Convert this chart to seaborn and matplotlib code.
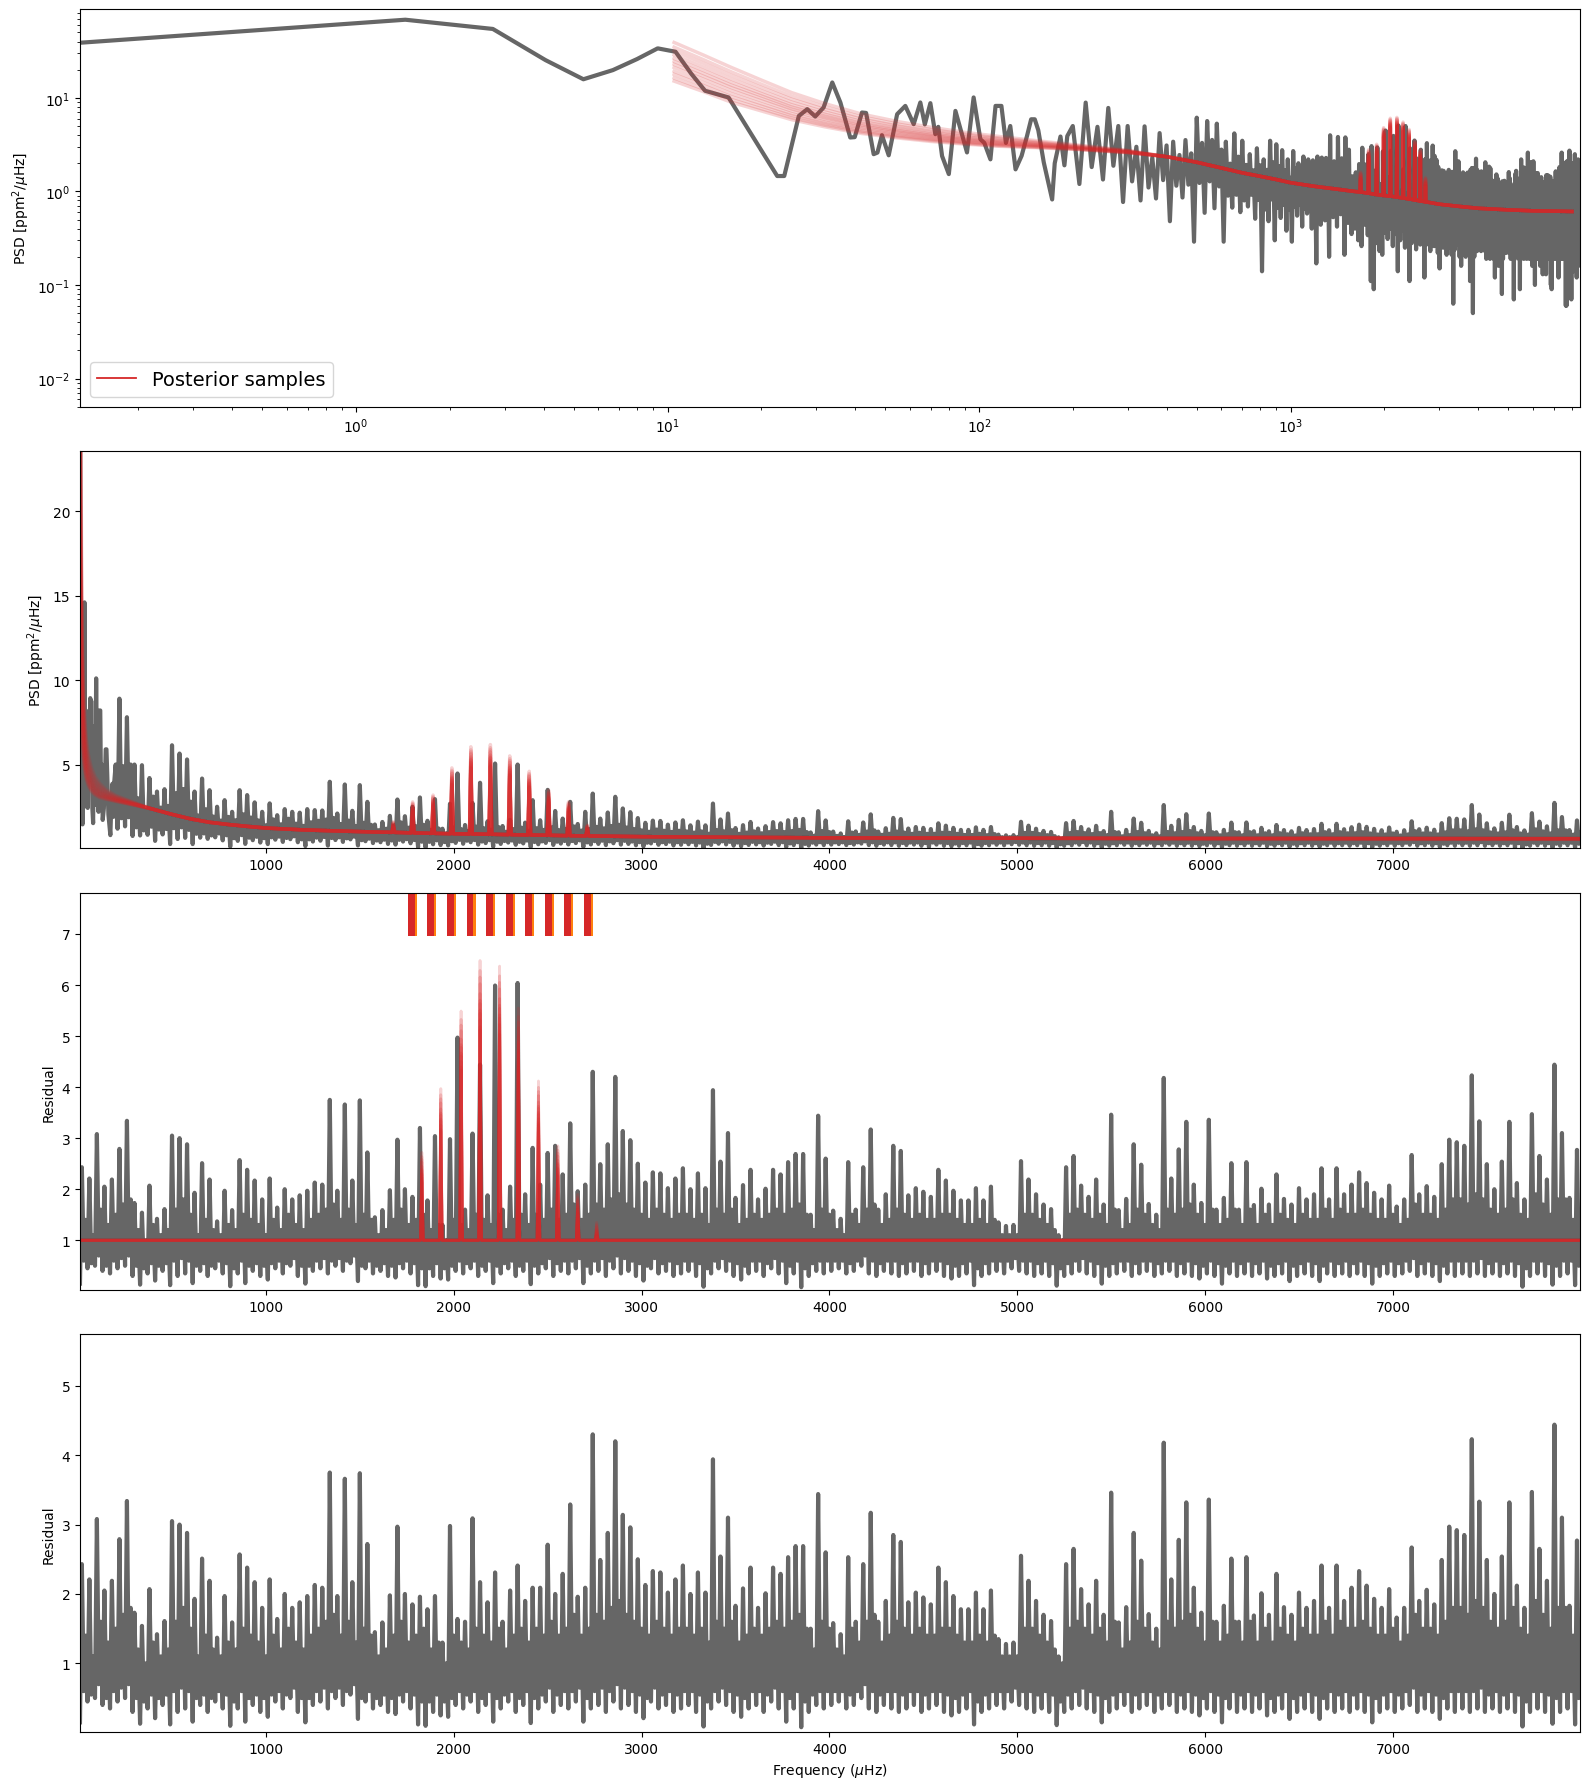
import numpy as np
import pandas as pd
import matplotlib
matplotlib.use("Agg")
import matplotlib.pyplot as plt
import seaborn as sns
from matplotlib.lines import Line2D

# ---------------- data ----------------
# low-frequency PSD points (µHz, ppm^2/µHz)
lf_freq = [0.13, 1.44, 2.75, 4.06, 5.37, 6.68, 7.99, 9.30, 10.61, 11.92,
           13.2, 14.5, 15.7, 22.5, 23.7, 26.4, 28.1, 29.8, 31.7, 33.8,
           35.9, 38.6, 39.9, 42.1, 43.4, 45.9, 47.2, 48.8, 51.3, 54.6,
           58.0, 61.7, 64.8, 67.0, 69.8, 72.4, 74.0, 76.1, 80.0, 84.0,
           91.5, 96.1, 101.0, 104.0, 108.8, 113.0, 118.0, 122.0, 126.0, 131.0,
           137.0, 142.6, 147.0, 151.0, 155.0, 161.4, 171.7, 175.0, 182.6, 188.0,
           192.0, 200.0]
lf_psd = [38.8, 68.4, 54.5, 25.3, 15.8, 19.8, 26.0, 33.8, 31.1, 18.1,
          11.9, 10.9, 10.1, 1.46, 1.46, 6.41, 7.57, 6.32, 7.89, 14.6,
          8.9, 3.77, 3.8, 6.97, 6.9, 2.5, 2.6, 3.99, 2.43, 6.69,
          8.2, 5.23, 8.93, 5.2, 8.77, 4.09, 4.9, 2.39, 1.53, 7.25,
          2.61, 10.1, 3.61, 3.3, 2.2, 8.2, 8.2, 3.3, 5.0, 1.72,
          2.4, 3.92, 5.9, 5.9, 4.5, 2.04, 0.82, 2.0, 3.86, 1.9,
          3.9, 5.0]

# PSD above 210 µHz, per 40-µHz bin: deepest dip, highest spike,
# lower edge of the dense core, upper edge of the dense core
psd_bin_start = 210
psd_lo = [1.2, 1.34, 0.77, 0.8, 0.84, 0.48, 0.86, 0.29, 0.59, 0.66,
          0.29, 0.67, 0.6, 0.69, 0.51, 0.14, 0.48, 0.3, 0.52, 0.38,
          0.29, 0.55, 0.42, 0.58, 0.4, 0.17, 0.44, 0.49, 0.2, 0.53,
          0.42, 0.57, 0.21, 0.46, 0.35, 0.4, 0.3, 0.26, 0.44, 0.34,
          0.11, 0.09, 0.28, 0.23, 0.21, 0.36, 0.31, 0.4, 0.26, 0.35,
          0.14, 0.3, 0.38, 0.25, 0.33, 0.11, 0.28, 0.36, 0.24, 0.32,
          0.27, 0.35, 0.12, 0.27, 0.3, 0.23, 0.34, 0.26, 0.3, 0.22,
          0.15, 0.33, 0.25, 0.29, 0.21, 0.25, 0.28, 0.21, 0.063, 0.24,
          0.31, 0.27, 0.2, 0.16, 0.24, 0.27, 0.2, 0.3, 0.23, 0.11,
          0.23, 0.05, 0.2, 0.26, 0.23, 0.26, 0.29, 0.23, 0.26, 0.32,
          0.23, 0.19, 0.26, 0.23, 0.19, 0.23, 0.26, 0.19, 0.12, 0.26,
          0.19, 0.16, 0.19, 0.22, 0.08, 0.19, 0.22, 0.25, 0.22, 0.28,
          0.25, 0.22, 0.19, 0.22, 0.19, 0.07, 0.19, 0.22, 0.25, 0.22,
          0.19, 0.09, 0.19, 0.22, 0.25, 0.19, 0.22, 0.25, 0.19, 0.22,
          0.25, 0.19, 0.22, 0.19, 0.16, 0.22, 0.19, 0.1, 0.22, 0.19,
          0.22, 0.19, 0.22, 0.16, 0.19, 0.22, 0.13, 0.19, 0.22, 0.19,
          0.13, 0.22, 0.19, 0.22, 0.19, 0.22, 0.1, 0.09, 0.19, 0.22,
          0.19, 0.22, 0.25, 0.19, 0.22, 0.19, 0.12, 0.22, 0.19, 0.22,
          0.19, 0.22, 0.19, 0.22, 0.19, 0.22, 0.06, 0.06, 0.19, 0.22,
          0.19, 0.08, 0.19, 0.22, 0.07, 0.19, 0.22, 0.14, 0.19, 0.22,
          0.16, 0.19, 0.12, 0.22, 0.19, 0.16, 0.2]
psd_hi = [8.9, 7.8, 5.0, 4.96, 4.2, 3.4, 3.54, 6.14, 5.65, 5.3,
          3.4, 4.17, 3.48, 2.5, 2.89, 2.2, 3.48, 3.19, 2.76, 2.2,
          2.7, 2.0, 2.36, 2.2, 2.15, 2.36, 2.3, 2.28, 3.98, 2.1,
          3.82, 2.26, 3.78, 2.79, 1.45, 1.6, 1.96, 2.93, 1.94, 2.5,
          3.05, 1.67, 2.95, 1.2, 2.68, 4.47, 1.42, 2.72, 3.92, 1.64,
          5.06, 1.36, 1.72, 5.0, 1.56, 2.89, 1.7, 3.5, 2.25, 1.8,
          2.79, 1.48, 2.2, 3.28, 1.8, 2.16, 3.09, 2.4, 2.18, 1.83,
          1.55, 1.68, 1.66, 1.44, 1.57, 1.7, 1.4, 1.62, 1.4, 2.69,
          1.75, 2.1, 1.24, 1.41, 1.6, 1.21, 1.35, 1.59, 1.52, 1.7,
          1.78, 1.78, 0.98, 2.24, 1.69, 1.03, 0.92, 1.64, 1.04, 1.57,
          2.05, 1.03, 1.23, 1.84, 1.77, 1.21, 1.3, 1.25, 1.18, 1.52,
          1.38, 1.25, 1.13, 1.13, 1.28, 1.13, 1.3, 0.85, 0.81, 0.82,
          1.61, 1.38, 1.2, 1.07, 1.01, 0.69, 1.53, 1.66, 1.3, 1.16,
          1.37, 1.06, 2.2, 0.99, 1.13, 1.8, 1.55, 1.07, 0.93, 2.6,
          1.37, 1.72, 2.06, 1.3, 1.07, 2.1, 0.99, 1.13, 1.56, 0.99,
          1.57, 1.05, 1.25, 1.05, 1.42, 1.12, 1.05, 1.25, 1.12, 1.18,
          1.49, 1.11, 1.49, 1.17, 1.29, 1.44, 1.31, 1.19, 1.11, 1.27,
          1.02, 1.11, 1.64, 1.17, 1.26, 1.14, 1.53, 1.82, 1.79, 1.75,
          2.6, 2.04, 1.52, 1.22, 1.55, 2.03, 1.3, 1.1, 2.12, 1.62,
          1.34, 2.73, 1.89, 1.12, 1.69, 1.4, 2.0, 1.2, 1.6, 2.5,
          1.3, 1.1, 1.8, 1.5, 2.2, 1.3, 1.7]
psd_core_lo = [1.82, 1.88, 1.28, 1.1, 1.32,
               1.15, 1.18, 1.23, 1.28, 1.13, 0.9, 0.92, 0.8, 0.92, 0.81,
               0.64, 0.82, 0.67, 0.72, 0.64, 0.69, 0.73, 0.65, 0.75, 0.57,
               0.57, 0.67, 0.71, 0.65, 0.69, 0.63, 0.73, 0.52, 0.61, 0.5,
               0.55, 0.5, 0.54, 0.58, 0.53, 0.43, 0.42, 0.51, 0.41, 0.46,
               0.54, 0.49, 0.53, 0.44, 0.52, 0.43, 0.47, 0.5, 0.42, 0.5,
               0.41, 0.45, 0.52, 0.43, 0.47, 0.47, 0.51, 0.39, 0.46, 0.49,
               0.45, 0.52, 0.48, 0.44, 0.4, 0.37, 0.47, 0.4, 0.43, 0.4,
               0.42, 0.42, 0.38, 0.31, 0.42, 0.45, 0.42, 0.38, 0.35, 0.42,
               0.4, 0.37, 0.43, 0.4, 0.33, 0.4, 0.3, 0.37, 0.4, 0.4,
               0.39, 0.39, 0.35, 0.39, 0.45, 0.39, 0.35, 0.39, 0.39, 0.35,
               0.38, 0.38, 0.35, 0.38, 0.38, 0.35, 0.32, 0.35, 0.38, 0.29,
               0.35, 0.38, 0.38, 0.38, 0.41, 0.38, 0.38, 0.35, 0.38, 0.35,
               0.28, 0.34, 0.38, 0.41, 0.38, 0.34, 0.31, 0.34, 0.38, 0.38,
               0.34, 0.37, 0.37, 0.34, 0.37, 0.37, 0.34, 0.37, 0.34, 0.31,
               0.37, 0.34, 0.31, 0.37, 0.34, 0.37, 0.34, 0.37, 0.31, 0.34,
               0.37, 0.31, 0.34, 0.37, 0.34, 0.31, 0.37, 0.34, 0.37, 0.34,
               0.37, 0.34, 0.31, 0.34, 0.37, 0.34, 0.37, 0.4, 0.34, 0.37,
               0.34, 0.31, 0.37, 0.37, 0.37, 0.37, 0.4, 0.34, 0.37, 0.34,
               0.37, 0.34, 0.27, 0.37, 0.37, 0.34, 0.31, 0.37, 0.37, 0.31,
               0.35, 0.37, 0.31, 0.34, 0.37, 0.31, 0.34, 0.37, 0.31, 0.35, 0.37, 0.33]
psd_core = [4.9, 5.0, 3.0, 2.3, 3.1,
            2.45, 2.55, 3.3, 3.55, 2.8, 1.98, 2.35, 1.92, 1.68, 1.9,
            1.7, 2.05, 1.86, 1.69, 1.4, 1.75, 1.46, 1.79, 1.5, 1.37,
            1.58, 1.67, 1.74, 1.84, 1.48, 1.68, 1.35, 1.55, 1.43, 1.11,
            1.2, 1.39, 1.57, 1.26, 1.34, 1.43, 1.13, 1.21, 0.92, 1.27,
            1.17, 1.07, 1.32, 1.23, 1.13, 1.29, 1.02, 1.18, 1.26, 1.08,
            1.23, 1.13, 1.28, 1.11, 1.19, 1.33, 1.09, 1.16, 1.31, 1.22,
            1.36, 1.43, 1.27, 1.18, 1.1, 1.02, 1.15, 1.08, 1.01, 1.08,
            1.04, 0.97, 1.04, 0.9, 1.11, 1.04, 1.11, 0.9, 0.97, 1.04,
            0.93, 1.0, 1.06, 1.0, 1.06, 1.13, 1.0, 0.79, 1.06, 1.0,
            0.78, 0.71, 0.97, 0.84, 1.03, 1.1, 0.84, 0.9, 1.03, 0.97,
            0.9, 0.96, 0.9, 0.9, 0.96, 0.96, 0.9, 0.83, 0.83, 0.9,
            0.82, 0.88, 0.7, 0.7, 0.7, 0.95, 0.95, 0.88, 0.82, 0.76,
            0.63, 0.94, 1.0, 0.94, 0.88, 0.94, 0.82, 1.0, 0.75, 0.82,
            1.0, 0.93, 0.81, 0.75, 1.0, 0.93, 1.0, 1.06, 0.93, 0.81,
            0.99, 0.81, 0.87, 0.99, 0.81, 0.99, 0.81, 0.93, 0.81, 0.93,
            0.87, 0.8, 0.93, 0.87, 0.87, 0.99, 0.87, 0.99, 0.93, 0.93,
            0.99, 0.92, 0.86, 0.86, 0.92, 0.8, 0.86, 1.05, 0.92, 0.92,
            0.86, 0.98, 1.1, 1.1, 1.04, 1.16, 1.1, 0.98, 0.92, 0.98,
            1.1, 0.92, 0.85, 1.16, 1.04, 0.92, 1.1, 1.1, 0.85, 0.98,
            0.92, 1.03, 0.82, 0.98, 1.09, 0.87, 0.82, 1.03, 0.92, 1.14, 0.87, 0.98]

# Residual (PSD / background), per 40-µHz bin starting at 10 µHz
res_bin_start = 10
res_lo = [0.15, 0.45, 0.5, 0.4, 0.35, 0.45, 0.5, 0.3, 0.13, 0.35,
          0.21, 0.4, 0.12, 0.3, 0.35, 0.16, 0.4, 0.3, 0.45, 0.35,
          0.1, 0.35, 0.16, 0.4, 0.3, 0.23, 0.45, 0.35, 0.5, 0.3,
          0.15, 0.4, 0.45, 0.35, 0.5, 0.4, 0.55, 0.2, 0.45, 0.35,
          0.4, 0.3, 0.27, 0.45, 0.35, 0.12, 0.1, 0.3, 0.25, 0.23,
          0.4, 0.35, 0.45, 0.3, 0.4, 0.16, 0.35, 0.45, 0.3, 0.4,
          0.14, 0.35, 0.45, 0.3, 0.4, 0.35, 0.45, 0.16, 0.35, 0.4,
          0.3, 0.45, 0.35, 0.4, 0.3, 0.21, 0.45, 0.35, 0.4, 0.3,
          0.35, 0.4, 0.3, 0.09, 0.35, 0.45, 0.4, 0.3, 0.23, 0.35,
          0.4, 0.3, 0.45, 0.35, 0.16, 0.35, 0.08, 0.3, 0.4, 0.35,
          0.4, 0.45, 0.35, 0.4, 0.5, 0.35, 0.3, 0.4, 0.35, 0.3,
          0.35, 0.4, 0.3, 0.35, 0.4, 0.3, 0.25, 0.3, 0.35, 0.12,
          0.3, 0.35, 0.4, 0.35, 0.45, 0.4, 0.35, 0.3, 0.35, 0.3,
          0.11, 0.3, 0.35, 0.4, 0.35, 0.3, 0.15, 0.3, 0.35, 0.4,
          0.3, 0.35, 0.4, 0.3, 0.35, 0.4, 0.3, 0.35, 0.3, 0.25,
          0.35, 0.3, 0.15, 0.35, 0.3, 0.35, 0.3, 0.35, 0.25, 0.3,
          0.35, 0.2, 0.3, 0.35, 0.3, 0.2, 0.35, 0.3, 0.35, 0.3,
          0.35, 0.3, 0.15, 0.3, 0.35, 0.3, 0.35, 0.4, 0.3, 0.35,
          0.3, 0.2, 0.35, 0.3, 0.35, 0.3, 0.35, 0.3, 0.35, 0.3,
          0.35, 0.3, 0.09, 0.3, 0.35, 0.3, 0.13, 0.3, 0.35, 0.12]
res_hi = [2.43, 2.21, 3.08, 2.05, 2.19, 2.79, 3.34, 1.73, 1.54, 2.07,
          1.42, 1.61, 3.05, 3.0, 2.88, 1.93, 2.51, 2.19, 1.37, 1.97,
          1.59, 2.57, 2.38, 2.17, 1.8, 2.21, 1.64, 2.0, 1.8, 1.88,
          1.97, 2.13, 2.09, 3.75, 1.97, 3.66, 2.17, 3.74, 2.72, 1.45,
          1.59, 1.98, 2.97, 2.0, 1.85, 1.96, 1.78, 1.97, 1.3, 2.98,
          1.64, 1.6, 3.09, 2.17, 1.88, 2.31, 1.6, 2.05, 2.41, 1.9,
          2.09, 2.09, 2.71, 2.0, 2.29, 3.29, 1.96, 2.09, 4.3, 2.49,
          2.88, 4.2, 3.14, 2.96, 2.5, 2.13, 2.33, 2.31, 2.02, 2.21,
          2.41, 2.0, 2.31, 2.02, 3.94, 2.54, 3.1, 1.83, 2.08, 2.38,
          1.8, 2.01, 2.38, 2.29, 2.53, 2.69, 2.69, 1.5, 3.44, 2.6,
          1.58, 1.42, 2.53, 1.6, 2.43, 3.17, 1.6, 1.9, 2.85, 2.75,
          1.88, 2.02, 1.95, 1.85, 2.38, 2.17, 1.97, 1.78, 1.78, 2.02,
          1.78, 2.05, 1.35, 1.28, 1.3, 2.55, 2.19, 1.9, 1.7, 1.61,
          1.1, 2.43, 2.65, 2.07, 1.85, 2.19, 1.7, 3.46, 1.59, 1.81,
          2.88, 2.48, 1.71, 1.5, 4.18, 2.21, 2.78, 3.32, 2.09, 1.73,
          3.36, 1.6, 1.83, 2.51, 1.6, 2.53, 1.69, 2.01, 1.7, 2.29,
          1.81, 1.7, 2.02, 1.8, 1.9, 2.41, 1.8, 2.41, 1.9, 2.09,
          2.33, 2.12, 1.93, 1.8, 2.07, 1.66, 1.8, 2.67, 1.9, 2.06,
          1.85, 2.49, 2.97, 2.92, 2.85, 4.23, 3.33, 2.49, 2.0, 2.54,
          3.32, 2.12, 1.8, 3.47, 2.65, 2.19, 4.44, 3.1, 1.83, 2.77]
res_core_lo = [0.6, 0.55, 0.7, 0.5, 0.6, 0.65, 0.7, 0.5, 0.45, 0.55,
               0.5, 0.55, 0.6, 0.65, 0.6, 0.5, 0.55, 0.5, 0.6, 0.55,
               0.45, 0.6, 0.5, 0.55, 0.5, 0.55, 0.6, 0.55, 0.65, 0.5,
               0.5, 0.6, 0.65, 0.6, 0.65, 0.6, 0.7, 0.5, 0.6, 0.5,
               0.55, 0.5, 0.55, 0.6, 0.55, 0.45, 0.45, 0.55, 0.45, 0.5,
               0.6, 0.55, 0.6, 0.5, 0.6, 0.5, 0.55, 0.6, 0.5, 0.6,
               0.5, 0.55, 0.65, 0.55, 0.6, 0.6, 0.65, 0.5, 0.6, 0.65,
               0.6, 0.7, 0.65, 0.6, 0.55, 0.5, 0.65, 0.55, 0.6, 0.55,
               0.6, 0.6, 0.55, 0.45, 0.6, 0.65, 0.6, 0.55, 0.5, 0.6,
               0.6, 0.55, 0.65, 0.6, 0.5, 0.6, 0.45, 0.55, 0.6, 0.6,
               0.6, 0.6, 0.55, 0.6, 0.7, 0.6, 0.55, 0.6, 0.6, 0.55,
               0.6, 0.6, 0.55, 0.6, 0.6, 0.55, 0.5, 0.55, 0.6, 0.45,
               0.55, 0.6, 0.6, 0.6, 0.65, 0.6, 0.6, 0.55, 0.6, 0.55,
               0.45, 0.55, 0.6, 0.65, 0.6, 0.55, 0.5, 0.55, 0.6, 0.6,
               0.55, 0.6, 0.6, 0.55, 0.6, 0.6, 0.55, 0.6, 0.55, 0.5,
               0.6, 0.55, 0.5, 0.6, 0.55, 0.6, 0.55, 0.6, 0.5, 0.55,
               0.6, 0.5, 0.55, 0.6, 0.55, 0.5, 0.6, 0.55, 0.6, 0.55,
               0.6, 0.55, 0.5, 0.55, 0.6, 0.55, 0.6, 0.65, 0.55, 0.6,
               0.55, 0.5, 0.6, 0.6, 0.6, 0.6, 0.65, 0.55, 0.6, 0.55,
               0.6, 0.55, 0.45, 0.6, 0.6, 0.55, 0.5, 0.6, 0.6, 0.5]
res_core = [1.4, 1.1, 1.6, 1.3, 1.5, 1.7, 1.8, 1.2, 1.0, 1.3,
            1.1, 1.2, 1.6, 1.8, 1.5, 1.1, 1.4, 1.2, 1.1, 1.3,
            1.2, 1.5, 1.4, 1.3, 1.1, 1.4, 1.2, 1.5, 1.3, 1.2,
            1.4, 1.5, 1.6, 1.7, 1.4, 1.6, 1.3, 1.5, 1.4, 1.1,
            1.2, 1.4, 1.6, 1.3, 1.4, 1.5, 1.2, 1.3, 1.0, 1.4,
            1.3, 1.2, 1.5, 1.4, 1.3, 1.5, 1.2, 1.4, 1.5, 1.3,
            1.5, 1.4, 1.6, 1.4, 1.5, 1.7, 1.4, 1.5, 1.7, 1.6,
            1.8, 1.9, 1.7, 1.6, 1.5, 1.4, 1.6, 1.5, 1.4, 1.5,
            1.5, 1.4, 1.5, 1.3, 1.6, 1.5, 1.6, 1.3, 1.4, 1.5,
            1.4, 1.5, 1.6, 1.5, 1.6, 1.7, 1.5, 1.2, 1.6, 1.5,
            1.2, 1.1, 1.5, 1.3, 1.6, 1.7, 1.3, 1.4, 1.6, 1.5,
            1.4, 1.5, 1.4, 1.4, 1.5, 1.5, 1.4, 1.3, 1.3, 1.4,
            1.3, 1.4, 1.1, 1.1, 1.1, 1.5, 1.5, 1.4, 1.3, 1.2,
            1.0, 1.5, 1.6, 1.5, 1.4, 1.5, 1.3, 1.6, 1.2, 1.3,
            1.6, 1.5, 1.3, 1.2, 1.6, 1.5, 1.6, 1.7, 1.5, 1.3,
            1.6, 1.3, 1.4, 1.6, 1.3, 1.6, 1.3, 1.5, 1.3, 1.5,
            1.4, 1.3, 1.5, 1.4, 1.4, 1.6, 1.4, 1.6, 1.5, 1.5,
            1.6, 1.5, 1.4, 1.4, 1.5, 1.3, 1.4, 1.7, 1.5, 1.5,
            1.4, 1.6, 1.8, 1.8, 1.7, 1.9, 1.8, 1.6, 1.5, 1.6,
            1.8, 1.5, 1.4, 1.9, 1.7, 1.5, 1.8, 1.8, 1.4, 1.6]
# bins where the background-only residual (third panel) still holds the modes
res_mode_bins = [45, 47, 50, 53, 55, 58, 60, 63]
res_mode_vals = [3.2, 3.04, 4.97, 4.44, 5.99, 6.04, 2.81, 2.85]

# posterior background samples (low-frequency part differs per sample)
bg_knots_low = [10.5, 13, 16, 20, 25, 32, 42, 55, 70, 90, 115, 150, 200, 300]
sample_bg_low = [
    [39.1, 28.8, 21.2, 15.5, 11.4, 8.68, 6.71, 5.57, 4.85, 4.28, 3.88, 3.51, 3.17, 2.75],
    [34.8, 25.7, 19.0, 14.0, 10.4, 8.0, 6.25, 5.23, 4.59, 4.09, 3.73, 3.41, 3.11, 2.72],
    [31.7, 23.5, 17.4, 12.9, 9.67, 7.51, 5.92, 4.99, 4.4, 3.95, 3.62, 3.33, 3.06, 2.7],
    [28.8, 21.4, 15.9, 11.9, 9.01, 7.06, 5.61, 4.77, 4.23, 3.82, 3.52, 3.26, 3.02, 2.68],
    [26.4, 19.7, 14.7, 11.1, 8.45, 6.68, 5.36, 4.58, 4.09, 3.71, 3.43, 3.21, 2.99, 2.67],
    [24.5, 18.3, 13.7, 10.5, 8.01, 6.38, 5.15, 4.44, 3.98, 3.62, 3.37, 3.16, 2.96, 2.65],
    [22.8, 17.1, 12.9, 9.89, 7.62, 6.11, 4.97, 4.31, 3.88, 3.55, 3.31, 3.12, 2.93, 2.64],
    [21.1, 15.9, 12.0, 9.31, 7.24, 5.85, 4.79, 4.18, 3.78, 3.47, 3.25, 3.08, 2.91, 2.63],
    [19.2, 14.6, 11.1, 8.65, 6.79, 5.54, 4.59, 4.03, 3.67, 3.38, 3.18, 3.04, 2.88, 2.62],
    [17.8, 13.6, 10.3, 8.16, 6.46, 5.32, 4.44, 3.92, 3.58, 3.32, 3.13, 3.0, 2.86, 2.61],
    [16.3, 12.5, 9.61, 7.66, 6.13, 5.09, 4.28, 3.81, 3.5, 3.25, 3.08, 2.97, 2.84, 2.6],
    [15.1, 11.7, 9.0, 7.25, 5.85, 4.9, 4.16, 3.72, 3.42, 3.2, 3.04, 2.94, 2.82, 2.59],
]
bg_knots_mid = [400, 500, 600, 700, 800, 900, 1000, 1200, 1400, 1600]
bg_mid = [2.35, 2.05, 1.78, 1.58, 1.45, 1.34, 1.24, 1.13, 1.06, 1.0]
bg_knots_tail = [2800, 3000, 3500, 4000, 5000, 6000, 7000, 8000]
bg_tail = [0.76, 0.73, 0.69, 0.66, 0.635, 0.62, 0.615, 0.61]

# oscillation mode peaks of the PSD model
psd_peak_f = [1678, 1781, 1890, 1990, 2091, 2195, 2298, 2402, 2505, 2611, 2711]
psd_peak_h = [1.61, 2.79, 3.19, 4.80, 6.05, 6.18, 5.51, 4.60, 3.48, 2.79, 1.41]
psd_peak_base = [0.985, 0.955, 0.925, 0.905, 0.89, 0.87, 0.85, 0.83, 0.81, 0.79, 0.775]
# mode peaks of the residual model
res_peak_f = [1830, 1931, 2039, 2140, 2244, 2344, 2451, 2554, 2660, 2761]
res_peak_h = [2.72, 3.97, 5.49, 6.48, 6.37, 5.55, 4.12, 2.85, 1.90, 1.35]
# relative peak height of each posterior sample
peak_scale = [1.0, 0.82, 0.93, 0.87, 0.97, 0.79, 0.9, 0.85, 0.95, 0.8, 0.88, 0.84]

# mode-frequency markers (third panel)
bar_start = [1758, 1860, 1966, 2068, 2174, 2276, 2377, 2484, 2588, 2692]
bar_red_width = 37
bar_orange_width = 11

# ---------------- style ----------------
GRAY = "#666666"
RED = "#d62728"
ORANGE = "#ff7f0e"
PEAK_HW = 7
BIN = 40


def bins_to_line(start, lo, hi, core_lo, core):
    """Trace each 40-µHz bin: deepest dip, highest spike, core low, core high."""
    cols = [np.asarray(c, float) for c in (lo, hi, core_lo, core)]
    n = len(cols[0])
    f0 = start + BIN * np.arange(n)
    f = np.empty(4 * n)
    v = np.empty(4 * n)
    for i, c in enumerate(cols):
        f[i::4] = f0 + i * BIN / 4
        v[i::4] = c
    return f, v


pf, pv = bins_to_line(psd_bin_start, psd_lo, psd_hi, psd_core_lo, psd_core)
psd_f = np.concatenate([lf_freq, pf])
psd_v = np.concatenate([lf_psd, pv])

res4_f, res4_v = bins_to_line(res_bin_start, res_lo, res_hi, res_core_lo, res_core)
res3_hi = list(res_hi)
for b, val in zip(res_mode_bins, res_mode_vals):
    res3_hi[b] = val
res3_f, res3_v = bins_to_line(res_bin_start, res_lo, res3_hi, res_core_lo, res_core)

# posterior sample tables
psd_rows, res_rows = [], []
for s in range(len(sample_bg_low)):
    f = list(bg_knots_low) + list(bg_knots_mid)
    v = list(sample_bg_low[s]) + list(bg_mid)
    for fp, hp, bp in zip(psd_peak_f, psd_peak_h, psd_peak_base):
        f += [fp - PEAK_HW, fp, fp + PEAK_HW]
        v += [bp, hp * peak_scale[s], bp]
    f += bg_knots_tail
    v += bg_tail
    psd_rows.append(pd.DataFrame({"f": f, "v": v, "sample": s}))

    f = [10]
    v = [1.0]
    for fp, hp in zip(res_peak_f, res_peak_h):
        f += [fp - PEAK_HW, fp, fp + PEAK_HW]
        v += [1.0, hp * peak_scale[s], 1.0]
    f += [8000]
    v += [1.0]
    res_rows.append(pd.DataFrame({"f": f, "v": v, "sample": s}))
psd_model = pd.concat(psd_rows, ignore_index=True)
res_model = pd.concat(res_rows, ignore_index=True)

# ---------------- figure ----------------
fig, axes = plt.subplots(4, 1, figsize=(15.9, 17.9), dpi=100)
fig.subplots_adjust(left=0.0503, right=0.9937, top=0.9944, bottom=0.0318,
                    hspace=0.111)
ax1, ax2, ax3, ax4 = axes

line_kw = dict(estimator=None, sort=False, legend=False)

# panel 1: log-log PSD
sns.lineplot(x=psd_f, y=psd_v, color=GRAY, lw=3, ax=ax1, **line_kw)
sns.lineplot(data=psd_model, x="f", y="v", units="sample", color=RED,
             alpha=0.2, lw=2.5, ax=ax1, **line_kw)
ax1.set_xscale("log")
ax1.set_yscale("log")
ax1.set_xlim(0.13, 8496)
ax1.set_ylim(0.005, 89)
ax1.set_xlabel("")
ax1.set_ylabel(r"PSD [ppm$^2$/$\mu$Hz]")
ax1.legend(handles=[Line2D([0], [0], color=RED, lw=1.3)],
           labels=["Posterior samples"], loc="lower left", fontsize=14)

# panel 2: linear PSD
sns.lineplot(x=psd_f, y=psd_v, color=GRAY, lw=3, ax=ax2, **line_kw)
sns.lineplot(data=psd_model, x="f", y="v", units="sample", color=RED,
             alpha=0.2, lw=2.5, ax=ax2, **line_kw)
ax2.set_xlim(10, 7996)
ax2.set_ylim(0.03, 23.57)
ax2.set_xlabel("")
ax2.set_ylabel(r"PSD [ppm$^2$/$\mu$Hz]")

# panel 3: residual w.r.t. background, with mode model
sns.lineplot(x=res3_f, y=res3_v, color=GRAY, lw=3, ax=ax3, **line_kw)
sns.lineplot(data=res_model, x="f", y="v", units="sample", color=RED,
             alpha=0.2, lw=2, ax=ax3, **line_kw)
for b in bar_start:
    ax3.axvspan(b, b + bar_red_width + bar_orange_width, ymin=0.89, ymax=1.0,
                color=ORANGE, lw=0)
    ax3.axvspan(b, b + bar_red_width, ymin=0.89, ymax=1.0, color=RED, lw=0)
ax3.set_xlim(10, 7996)
ax3.set_ylim(0.02, 7.81)
ax3.set_xlabel("")
ax3.set_ylabel("Residual")

# panel 4: full residual
sns.lineplot(x=res4_f, y=res4_v, color=GRAY, lw=3, ax=ax4, **line_kw)
ax4.set_xlim(10, 7996)
ax4.set_ylim(0.01, 5.74)
ax4.set_xlabel(r"Frequency ($\mu$Hz)")
ax4.set_ylabel("Residual")

fig.savefig("out.png", dpi=100)
